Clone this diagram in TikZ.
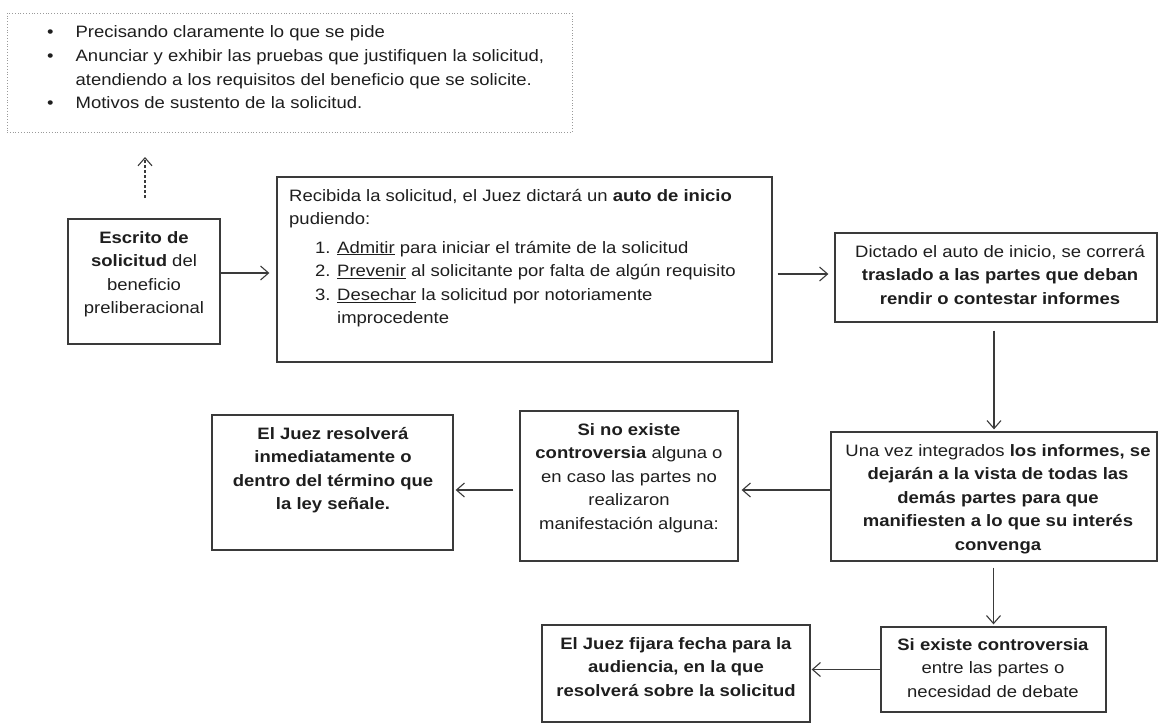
\documentclass[tikz,border=0pt]{standalone}
\usepackage{fontspec}
\setmainfont{Liberation Sans}[FakeStretch=1.12]
\usetikzlibrary{arrows.meta}
\definecolor{ink}{HTML}{1E1E1E}
\definecolor{edge}{HTML}{3A3A3A}
\definecolor{dotc}{HTML}{9A9A9A}
\begin{document}
\begin{tikzpicture}[x=1pt,y=-1pt,
  box/.style={draw=edge,line width=1.3pt,fill=none},
  dotbox/.style={draw=dotc,line width=0.8pt,dotted},
  txt/.style={inner sep=0pt,text=ink,font=\fontsize{16.5}{23.6}\selectfont},
  arr/.style={draw=edge,line width=1.1pt,-{Straight Barb[length=8pt,width=14pt,line width=1.1pt]}},
  darr/.style={arr,dashed,dash pattern=on 3pt off 2pt}]
\useasboundingbox (0,0) rectangle (1160,725);
\fill[white] (0,0) rectangle (1160,725);

% boxes
\node[dotbox,minimum width=565pt,minimum height=119pt,inner sep=0pt] (bul) at (289.5,72.5) {};
\node[box,minimum width=152pt,minimum height=125pt,inner sep=0pt] (esc) at (144,281.5) {};
\node[box,minimum width=495pt,minimum height=185pt,inner sep=0pt] (rec) at (524.5,269.5) {};
\node[box,minimum width=322pt,minimum height=89pt,inner sep=0pt] (dic) at (996,277.5) {};
\node[box,minimum width=326pt,minimum height=129pt,inner sep=0pt] (una) at (994,496.5) {};
\node[box,minimum width=218pt,minimum height=150pt,inner sep=0pt] (sino) at (629,486) {};
\node[box,minimum width=241pt,minimum height=135pt,inner sep=0pt] (res) at (332.5,482.5) {};
\node[box,minimum width=225pt,minimum height=85pt,inner sep=0pt] (siex) at (993.5,669.5) {};
\node[box,minimum width=268pt,minimum height=97pt,inner sep=0pt] (fij) at (676,673.5) {};

% texts
\node[txt,anchor=base west] (bul-t) at (47,38) {\begin{tabular}[t]{@{}l@{\hspace{22pt}}l@{}}
\textbullet & Precisando claramente lo que se pide\\
\textbullet & Anunciar y exhibir las pruebas que justifiquen la solicitud,\\
 & atendiendo a los requisitos del beneficio que se solicite.\\
\textbullet & Motivos de sustento de la solicitud.
\end{tabular}};

\node[txt,anchor=base] (esc-t) at (144,243) {\begin{tabular}[t]{@{}c@{}}
\textbf{Escrito de}\\ \textbf{solicitud} del\\ beneficio\\ preliberacional
\end{tabular}};

\node[txt,anchor=base west] (rec-t) at (289,201) {\begin{tabular}[t]{@{}l@{}}
Recibida la solicitud, el Juez dictará un \textbf{auto de inicio}\\
pudiendo:
\end{tabular}};
\node[txt,anchor=base west] (rec-l) at (289,253) {\begin{tabular}[t]{@{}l@{}}
\makebox[48pt][l]{\hspace{26pt}1.}\underline{Admitir} para iniciar el trámite de la solicitud\\
\makebox[48pt][l]{\hspace{26pt}2.}\underline{Prevenir} al solicitante por falta de algún requisito\\
\makebox[48pt][l]{\hspace{26pt}3.}\underline{Desechar} la solicitud por notoriamente\\
\makebox[48pt][l]{}improcedente
\end{tabular}};

\node[txt,anchor=base] (dic-t) at (1000,257) {\begin{tabular}[t]{@{}c@{}}
Dictado el auto de inicio, se correrá\\
\textbf{traslado a las partes que deban}\\
\textbf{rendir o contestar informes}
\end{tabular}};

\node[txt,anchor=base] (una-t) at (998,456) {\begin{tabular}[t]{@{}c@{}}
Una vez integrados \textbf{los informes, se}\\
\textbf{dejarán a la vista de todas las}\\
\textbf{demás partes para que}\\
\textbf{manifiesten a lo que su interés}\\
\textbf{convenga}
\end{tabular}};

\node[txt,anchor=base] (sino-t) at (629,435) {\begin{tabular}[t]{@{}c@{}}
\textbf{Si no existe}\\
\textbf{controversia} alguna o\\
en caso las partes no\\
realizaron\\
manifestación alguna:
\end{tabular}};

\node[txt,anchor=base] (res-t) at (333,439) {\begin{tabular}[t]{@{}c@{}}
\textbf{El Juez resolverá}\\
\textbf{inmediatamente o}\\
\textbf{dentro del término que}\\
\textbf{la ley señale.}
\end{tabular}};

\node[txt,anchor=base] (siex-t) at (993,650) {\begin{tabular}[t]{@{}c@{}}
\textbf{Si existe controversia}\\
entre las partes o\\
necesidad de debate
\end{tabular}};

\node[txt,anchor=base] (fij-t) at (676,649) {\begin{tabular}[t]{@{}c@{}}
\textbf{El Juez fijara fecha para la}\\
\textbf{audiencia, en la que}\\
\textbf{resolverá sobre la solicitud}
\end{tabular}};

% connectors
\coordinate (dstart) at (145,198);
\coordinate (dend) at (145,157);
\draw[darr] (dstart) -- (dend);
\draw[arr,shorten >=7pt] ([yshift=8.5pt]esc.east) -- ([yshift=8.5pt]esc.east -| rec.west);
\draw[arr,shorten <=5pt,shorten >=6pt] ([yshift=3.5pt]dic.west -| rec.east) -- ([yshift=3.5pt]dic.west);
\draw[arr,shorten <=8pt,shorten >=2pt] (dic.south -| una.north) -- (una.north);
\draw[arr,shorten >=3pt] ([yshift=6.5pt]una.west) -- ([yshift=6.5pt]una.west -| sino.east);
\draw[arr,shorten <=6pt,shorten >=2pt] ([yshift=-4pt]sino.west) -- ([yshift=-4pt]sino.west -| res.east);
\draw[arr,shorten <=6pt,shorten >=2pt] (una.south -| siex.north) -- (siex.north);
\draw[arr,shorten >=1pt] (siex.west) -- (siex.west -| fij.east);
\end{tikzpicture}
\end{document}
